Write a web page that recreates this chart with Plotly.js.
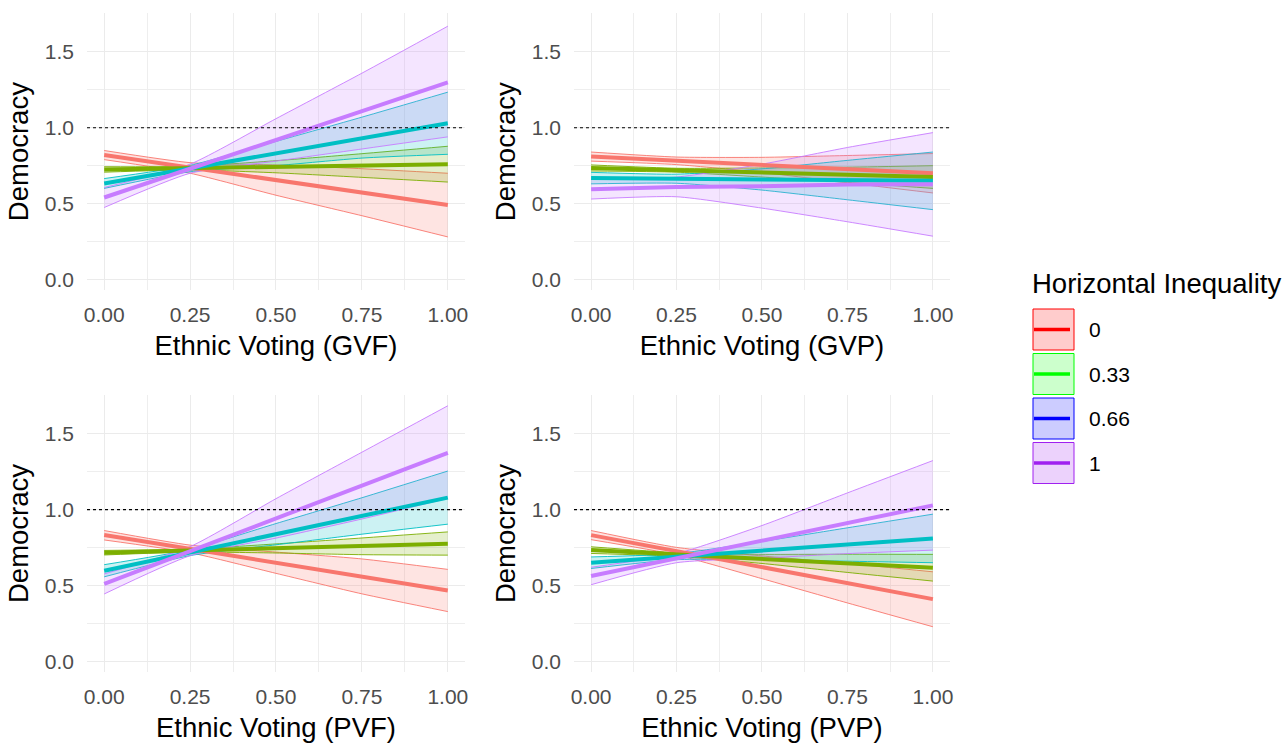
<!DOCTYPE html>
<html>
<head>
<meta charset="utf-8">
<script src="https://cdn.plot.ly/plotly-3.0.1.min.js"></script>
<style>html,body{margin:0;padding:0;background:#fff;}#chart{width:1288px;height:744px;}</style>
</head>
<body>
<div id="chart"></div>
<script>
// ---- data ----
const xVals = [0, 0.25, 0.5, 0.75, 1];
const groups = ["0", "0.33", "0.66", "1"];
const panelTitles = ["Ethnic Voting (GVF)", "Ethnic Voting (GVP)", "Ethnic Voting (PVF)", "Ethnic Voting (PVP)"];
const xTickVals = [0, 0.25, 0.5, 0.75, 1];
const xTickText = ["0.00", "0.25", "0.50", "0.75", "1.00"];
const yTickVals = [0, 0.5, 1, 1.5];
const yTickText = ["0.0", "0.5", "1.0", "1.5"];
const refLine = 1.0;

// GVF
const gvfFit   = [[0.82,0.7375,0.655,0.5725,0.49],[0.725,0.734,0.743,0.751,0.76],[0.632,0.7315,0.831,0.9305,1.03],[0.54,0.73,0.92,1.11,1.30]];
const gvfLower = [[0.79,0.70,0.555,0.42,0.28],[0.707,0.722,0.703,0.673,0.642],[0.60,0.71,0.75,0.80,0.825],[0.474,0.70,0.78,0.86,0.94]];
const gvfUpper = [[0.85,0.77,0.755,0.73,0.70],[0.743,0.746,0.783,0.829,0.878],[0.665,0.752,0.91,1.07,1.235],[0.606,0.76,1.06,1.36,1.67]];
// GVP
const gvpFit   = [[0.81,0.7825,0.755,0.7275,0.70],[0.735,0.72,0.705,0.69,0.675],[0.668,0.664,0.659,0.655,0.65],[0.595,0.61,0.615,0.625,0.627]];
const gvpLower = [[0.78,0.757,0.705,0.637,0.57],[0.715,0.707,0.675,0.64,0.60],[0.63,0.634,0.589,0.525,0.46],[0.53,0.545,0.47,0.38,0.285]];
const gvpUpper = [[0.84,0.807,0.805,0.817,0.83],[0.755,0.733,0.735,0.74,0.75],[0.706,0.694,0.729,0.785,0.84],[0.66,0.675,0.76,0.87,0.968]];
// PVF
const pvfFit   = [[0.832,0.741,0.65,0.558,0.467],[0.716,0.73,0.744,0.758,0.775],[0.597,0.7175,0.838,0.9585,1.079],[0.51,0.726,0.942,1.158,1.374]];
const pvfLower = [[0.80,0.716,0.58,0.445,0.328],[0.701,0.72,0.714,0.703,0.70],[0.557,0.697,0.768,0.838,0.904],[0.444,0.696,0.812,0.938,1.074]];
const pvfUpper = [[0.862,0.766,0.72,0.675,0.606],[0.731,0.74,0.774,0.813,0.853],[0.637,0.737,0.908,1.078,1.254],[0.576,0.756,1.072,1.378,1.684]];
// PVP
const pvpFit   = [[0.832,0.726,0.62,0.515,0.41],[0.733,0.704,0.675,0.646,0.617],[0.65,0.69,0.73,0.77,0.81],[0.562,0.6785,0.795,0.9115,1.028]];
const pvpLower = [[0.802,0.701,0.545,0.385,0.228],[0.711,0.692,0.645,0.586,0.529],[0.612,0.67,0.67,0.66,0.65],[0.505,0.65,0.68,0.71,0.733]];
const pvpUpper = [[0.862,0.751,0.695,0.645,0.59],[0.755,0.716,0.705,0.706,0.705],[0.688,0.71,0.79,0.88,0.97],[0.62,0.71,0.895,1.11,1.323]];

const panels = [
  {fit: gvfFit, lower: gvfLower, upper: gvfUpper},
  {fit: gvpFit, lower: gvpLower, upper: gvpUpper},
  {fit: pvfFit, lower: pvfLower, upper: pvfUpper},
  {fit: pvpFit, lower: pvpLower, upper: pvpUpper}
];

// ---- styles ----
const plotColors = ["#F8766D", "#7CAE00", "#00BFC4", "#C77CFF"];
const plotFills = ["rgba(248,118,109,0.2)", "rgba(124,174,0,0.2)", "rgba(0,191,196,0.2)", "rgba(199,124,255,0.2)"];
const keyColors = ["#FF0000", "#00FF00", "#0000FF", "#A020F0"];
const keyFills = ["rgba(255,0,0,0.2)", "rgba(0,255,0,0.2)", "rgba(0,0,255,0.2)", "rgba(160,32,240,0.2)"];
const FONT = "Liberation Sans, Arial, sans-serif";
const TITLE_SIZE = 27.5, TICK_SIZE = 21;

const traces = [];
panels.forEach((p, i) => {
  const xa = i === 0 ? "x" : "x" + (i + 1);
  const ya = i === 0 ? "y" : "y" + (i + 1);
  groups.forEach((g, k) => {
    traces.push({x: xVals, y: p.lower[k], xaxis: xa, yaxis: ya, type: "scatter", mode: "lines",
      line: {color: plotColors[k], width: 0.9, shape: "spline", smoothing: 0.6}, showlegend: false, hoverinfo: "skip"});
    traces.push({x: xVals, y: p.upper[k], xaxis: xa, yaxis: ya, type: "scatter", mode: "lines",
      fill: "tonexty", fillcolor: plotFills[k],
      line: {color: plotColors[k], width: 0.9, shape: "spline", smoothing: 0.6}, showlegend: false, hoverinfo: "skip"});
  });
  groups.forEach((g, k) => {
    traces.push({x: xVals, y: p.fit[k], xaxis: xa, yaxis: ya, type: "scatter", mode: "lines",
      name: g, line: {color: plotColors[k], width: 4}, showlegend: false});
  });
});

const xDomains = [[0.06755, 0.36102], [0.44565, 0.73758], [0.06755, 0.36102], [0.44565, 0.73758]];
const yDomains = [[0.61022, 0.98212], [0.61022, 0.98212], [0.09677, 0.46909], [0.09677, 0.46909]];

const layout = {
  width: 1288, height: 744,
  margin: {l: 0, r: 0, t: 0, b: 0},
  paper_bgcolor: "#ffffff", plot_bgcolor: "#ffffff",
  font: {family: FONT, color: "#000000"},
  showlegend: false,
  shapes: [], annotations: []
};

for (let i = 0; i < 4; i++) {
  const sx = i === 0 ? "" : String(i + 1);
  layout["xaxis" + sx] = {
    domain: xDomains[i], anchor: "y" + sx, range: [-0.05, 1.05],
    tickvals: xTickVals, ticktext: xTickText, ticks: "", showline: false, zeroline: false,
    showgrid: true, gridcolor: "#EBEBEB", gridwidth: 1,
    minor: {tickvals: [0.125, 0.375, 0.625, 0.875], showgrid: true, gridcolor: "#EEEEEE", gridwidth: 1, ticks: ""},
    tickfont: {size: TICK_SIZE, color: "#4D4D4D", family: FONT}, ticklabelstandoff: 10,
    automargin: false, fixedrange: true,
    title: {text: panelTitles[i], font: {size: TITLE_SIZE, color: "#000000", family: FONT}, standoff: 10}
  };
  layout["yaxis" + sx] = {
    domain: yDomains[i], anchor: "x" + sx, range: [-0.07, 1.755],
    tickvals: yTickVals, ticktext: yTickText, ticks: "", showline: false, zeroline: false,
    showgrid: true, gridcolor: "#EBEBEB", gridwidth: 1,
    minor: {tickvals: [0.25, 0.75, 1.25], showgrid: true, gridcolor: "#EEEEEE", gridwidth: 1, ticks: ""},
    tickfont: {size: TICK_SIZE, color: "#4D4D4D", family: FONT}, ticklabelstandoff: 12,
    automargin: false, fixedrange: true,
    title: {text: "Democracy", font: {size: TITLE_SIZE, color: "#000000", family: FONT}, standoff: 8}
  };
  layout.shapes.push({type: "line", xref: "x" + sx + " domain", yref: "y" + sx, x0: 0, x1: 1, y0: refLine, y1: refLine,
    line: {color: "#000000", width: 1.1, dash: "dot"}, layer: "above"});
}

// legend (drawn manually in ggplot style)
const W = 1288, H = 744;
const px = v => v / W, py = v => 1 - v / H;
layout.annotations.push({xref: "paper", yref: "paper", x: px(1030), y: py(283), xanchor: "left", yanchor: "middle",
  text: "Horizontal Inequality", showarrow: false, font: {size: TITLE_SIZE, color: "#000000", family: FONT}});
const keyTops = [309, 353.5, 398, 442.5];
groups.forEach((g, k) => {
  const top = keyTops[k], bot = top + 41, mid = (top + bot) / 2;
  layout.shapes.push({type: "rect", xref: "paper", yref: "paper", x0: px(1033), x1: px(1074), y0: py(bot), y1: py(top),
    fillcolor: keyFills[k], line: {color: keyColors[k], width: 1}});
  layout.shapes.push({type: "line", xref: "paper", yref: "paper", x0: px(1034), x1: px(1070), y0: py(mid), y1: py(mid),
    line: {color: keyColors[k], width: 3.5}});
  layout.annotations.push({xref: "paper", yref: "paper", x: px(1087), y: py(mid), xanchor: "left", yanchor: "middle",
    text: g, showarrow: false, font: {size: TICK_SIZE, color: "#000000", family: FONT}});
});

Plotly.newPlot("chart", traces, layout, {displayModeBar: false, staticPlot: true});
</script>
</body>
</html>
